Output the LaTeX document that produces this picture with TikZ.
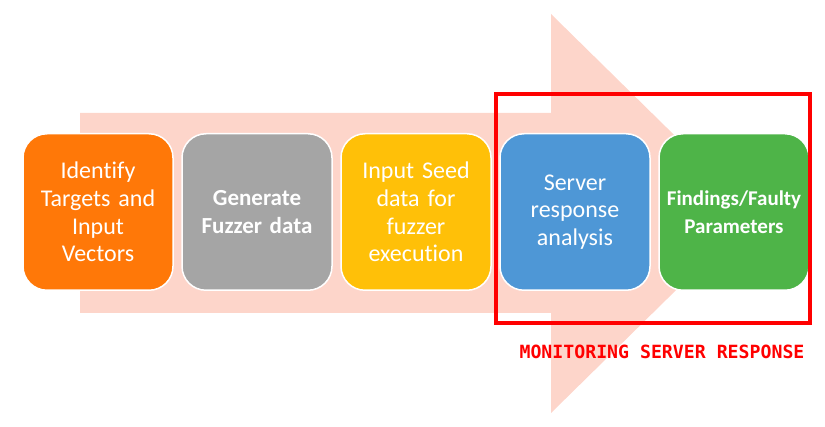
\documentclass[tikz,border=0pt]{standalone}
\usepackage{fontspec}
\setmainfont{Carlito}[Ligatures=NoCommon]
\newfontfamily\monofont{DejaVu Sans Mono}
\usepackage{xcolor}
\usetikzlibrary{positioning, fit}
\definecolor{arrowpink}{RGB}{253,213,202}
\definecolor{stageorange}{RGB}{255,120,8}
\definecolor{stagegray}{RGB}{165,165,165}
\definecolor{stageyellow}{RGB}{255,192,8}
\definecolor{stageblue}{RGB}{78,151,214}
\definecolor{stagegreen}{RGB}{78,180,72}
\tikzset{
  stage/.style={
    rectangle, draw=white, line width=1.5pt,
    rounded corners=24pt, minimum width=150pt, minimum height=156.5pt,
    text width=145pt, align=center, inner sep=0pt,
    text=white, font=\fontsize{24}{27.7}\selectfont
  },
  boldstage/.style={stage, font=\bfseries\fontsize{#1}{28}\selectfont},
  monitor/.style={draw=red, line width=4pt, inner sep=0pt},
  monlabel/.style={text=red, font=\monofont\bfseries\fontsize{18.2}{20}\selectfont},
}
\begin{document}
\begin{tikzpicture}[x=1pt, y=-1pt]
  \useasboundingbox (0,0) rectangle (825,427);

  % big background arrow
  \fill[arrowpink] (80,113) -- (551,113) -- (551,14) -- (754,213.5)
    -- (551,413) -- (551,313) -- (80,313) -- cycle;

  \node[stage, fill=stageorange] (targets) at (98,212)
    {Identify\\ Targets and\\ Input\\ Vectors};
  \node[stage, boldstage=23, fill=stagegray, right=7.5pt of targets]
    (generate) {Generate\\ Fuzzer data};
  \node[stage, fill=stageyellow, right=7.5pt of generate]
    (seed) {Input Seed\\ data for\\ fuzzer\\ execution};
  \node[stage, fill=stageblue, right=7.5pt of seed]
    (server) {Server\\ response\\ analysis};
  \node[stage, boldstage=21, fill=stagegreen, right=7.5pt of server]
    (findings) {Findings/Faulty\\ Parameters};

  \coordinate (montl) at (496,94);
  \coordinate (monbr) at (810,323);
  \node[monitor, fit=(montl)(monbr)] (monbox) {};
  \node[monlabel, below=16pt of monbox.south, xshift=9pt] (monitortext)
    {MONITORING SERVER RESPONSE};
\end{tikzpicture}
\end{document}
